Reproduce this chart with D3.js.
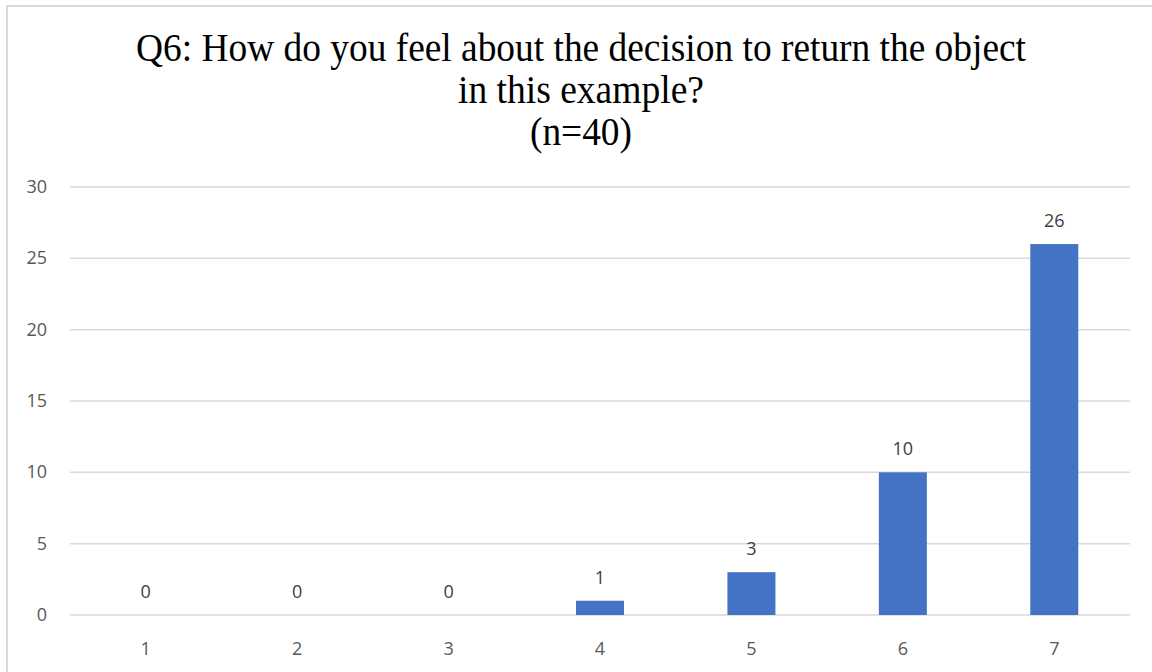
<!doctype html>
<meta charset="UTF-8">
<html>
  <head>
    <script src="https://d3js.org/d3.v7.min.js"></script>
    <style>
      body { margin: 0; background: #fff; }
    </style>
  </head>
  <body>
  </body>
  <script type="text/javascript">

    // data
    var categories = ['1', '2', '3', '4', '5', '6', '7']
    var counts = [0, 0, 0, 1, 3, 10, 26]
    var yTicks = [0, 5, 10, 15, 20, 25, 30]
    var titleLines = ['Q6: How do you feel about the decision to return the object', 'in this example?', '(n=40)']

    var width = 1152, height = 672
    var plotLeft = 70, plotRight = 1130, plotTop = 187, plotBottom = 615

    var svg = d3.select('body').append('svg')
      .attr('width', width)
      .attr('height', height)

    // chart frame
    svg.append('rect')
      .attr('x', 7).attr('y', 6)
      .attr('width', width + 10).attr('height', height + 10)
      .attr('fill', 'none')
      .attr('stroke', '#d9d9d9')
      .attr('stroke-width', 2)

    // title
    var titleWidths = [890, 246, 102]
    svg.selectAll('.title')
      .data(titleLines)
      .enter()
      .append('text')
      .attr('class', 'title')
      .text(d => d)
      .attr('x', 581)
      .attr('y', (d, i) => 61 + i * 42)
      .attr('text-anchor', 'middle')
      .attr('textLength', (d, i) => titleWidths[i])
      .attr('lengthAdjust', 'spacingAndGlyphs')
      .style('font-family', '"Liberation Serif", "Times New Roman", serif')
      .style('font-size', '39px')
      .style('fill', '#000')

    var x = d3.scaleBand()
      .domain(categories)
      .range([plotLeft, plotRight])
      .paddingInner(0.683)
      .paddingOuter(0.3415)

    var y = d3.scaleLinear()
      .domain([0, 30])
      .range([plotBottom, plotTop])

    var labelFont = '"Open Sans", "Noto Sans", sans-serif'

    // gridlines
    svg.append('g')
      .selectAll('line')
      .data(yTicks)
      .enter()
      .append('line')
      .attr('x1', plotLeft).attr('x2', plotRight)
      .attr('y1', d => y(d)).attr('y2', d => y(d))
      .attr('stroke', '#d9d9d9')
      .attr('stroke-width', 1.5)

    // y labels
    svg.append('g')
      .selectAll('text')
      .data(yTicks)
      .enter()
      .append('text')
      .text(d => d)
      .attr('x', 47)
      .attr('y', d => y(d) + 6)
      .attr('text-anchor', 'end')
      .style('font-family', labelFont)
      .style('font-size', '18px')
      .style('fill', '#595959')

    // bars
    svg.append('g')
      .selectAll('rect')
      .data(counts)
      .enter()
      .append('rect')
      .attr('x', (d, i) => x(categories[i]))
      .attr('width', x.bandwidth())
      .attr('y', d => y(d))
      .attr('height', d => plotBottom - y(d))
      .attr('fill', '#4472c4')

    // value labels
    svg.append('g')
      .selectAll('text')
      .data(counts)
      .enter()
      .append('text')
      .text(d => d)
      .attr('x', (d, i) => x(categories[i]) + x.bandwidth() / 2)
      .attr('y', d => y(d) - 17)
      .attr('text-anchor', 'middle')
      .style('font-family', labelFont)
      .style('font-size', '18px')
      .style('fill', '#404040')

    // x labels
    svg.append('g')
      .selectAll('text')
      .data(categories)
      .enter()
      .append('text')
      .text(d => d)
      .attr('x', d => x(d) + x.bandwidth() / 2)
      .attr('y', 655)
      .attr('text-anchor', 'middle')
      .style('font-family', labelFont)
      .style('font-size', '18px')
      .style('fill', '#595959')

  </script>
</html>
